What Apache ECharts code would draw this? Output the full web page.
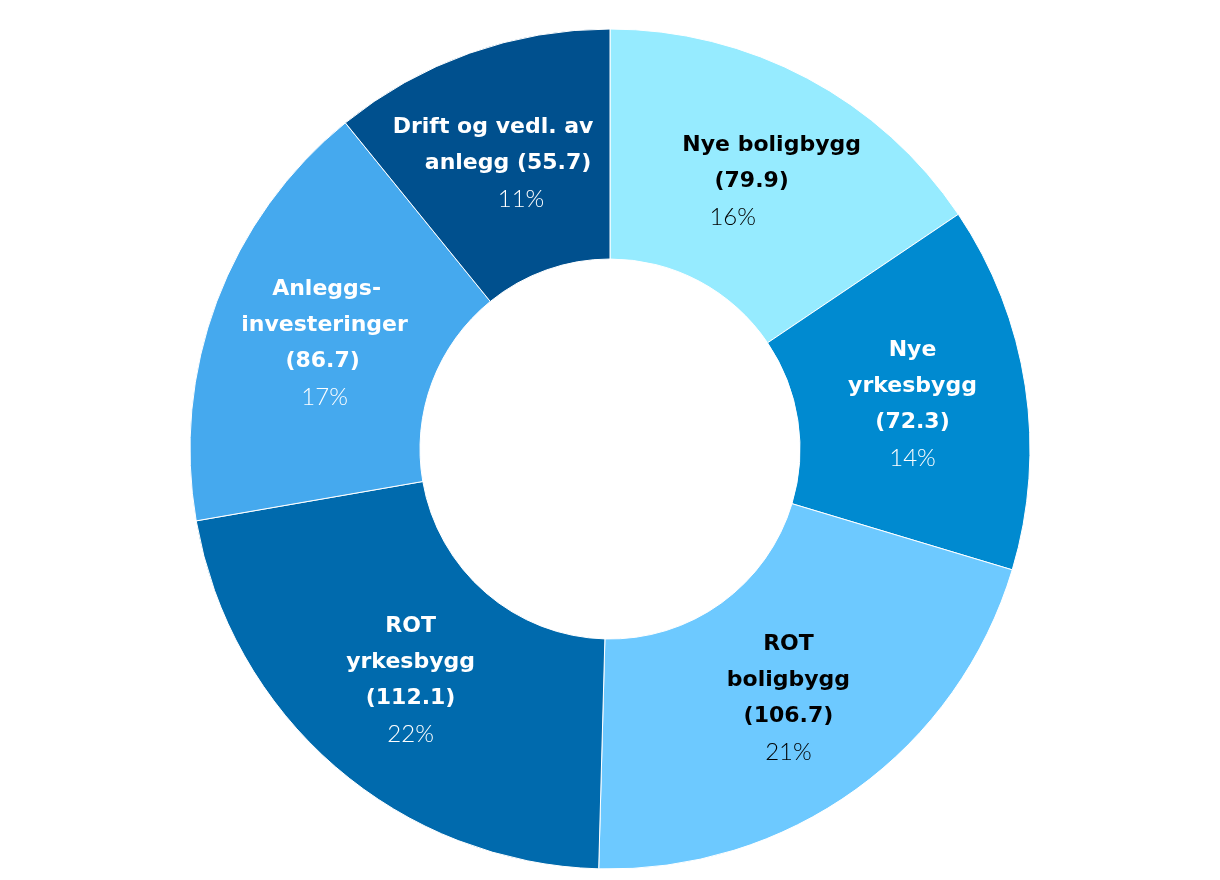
<!DOCTYPE html>
<html>
<head>
<meta charset="utf-8">
<script src="https://cdn.jsdelivr.net/npm/echarts@6/dist/echarts.min.js"></script>
<style>html,body{margin:0;padding:0;background:#fff}#c{width:1220px;height:880px}</style>
</head>
<body>
<div id="c"></div>
<script>
const categories = ["Nye boligbygg", "Nye yrkesbygg", "ROT boligbygg", "ROT yrkesbygg", "Anleggsinvesteringer", "Drift og vedl. av anlegg"];
const labelLines = [["Nye boligbygg"], ["Nye", "yrkesbygg"], ["ROT", "boligbygg"], ["ROT", "yrkesbygg"], ["Anleggs-", "investeringer"], ["Drift og vedl. av", "anlegg"]];
const values = [79.9, 72.3, 106.7, 112.1, 86.7, 55.7];
const colors = ["#96EBFF", "#008AD0", "#6DC9FF", "#006AAD", "#45A9EE", "#00508E"];
const textColors = ["#000", "#fff", "#000", "#fff", "#fff", "#fff"];
// horizontal shift (px) of each label line, for layout only
const lineShift = [[17, -3, -22], [0, 0, 0, 0], [0, 0, 0, 0], [0, 0, 0, 0], [2, 0, -2, 0], [-14, 1, 14]];
const labelOffset = [[0, 4], [-2, 1], [-2, 0], [2, -2], [3, 2], [0, 5]];

const chart = echarts.init(document.getElementById('c'));
const data = categories.map((n, i) => {
  const lines = labelLines[i].slice();
  const v = '(' + values[i].toFixed(1) + ')';
  if (i === 5) lines[lines.length - 1] += ' ' + v; else lines.push(v);
  const rich = {};
  const sh = lineShift[i];
  const pad = d => d >= 0 ? [0, 0, 0, 2 * d] : [0, -2 * d, 0, 0];
  lines.forEach((l, k) => {
    rich['b' + k] = { fontFamily: 'DejaVu Sans', fontWeight: 'bold', fontSize: 22, lineHeight: 36, color: textColors[i], padding: pad(sh[k]) };
  });
  rich.p = { fontFamily: 'Lato', fontWeight: 300, fontSize: 24, lineHeight: 36, color: textColors[i], padding: pad(sh[lines.length]) };
  return {
    name: n, value: values[i],
    itemStyle: { color: colors[i] },
    label: {
      formatter: p => lines.map((l, k) => '{b' + k + '|' + l + '}').join('\n') + '\n{p|' + Math.round(p.percent) + '%}',
      rich: rich,
      offset: labelOffset[i]
    }
  };
});
chart.setOption({
  animation: false,
  series: [{
    type: 'pie',
    center: [610, 449],
    radius: [190, 420],
    startAngle: 90,
    clockwise: true,
    itemStyle: { borderColor: '#fff', borderWidth: 1 },
    label: { show: true, position: 'inside' },
    labelLine: { show: false },
    data: data
  }]
});
</script>
</body>
</html>
